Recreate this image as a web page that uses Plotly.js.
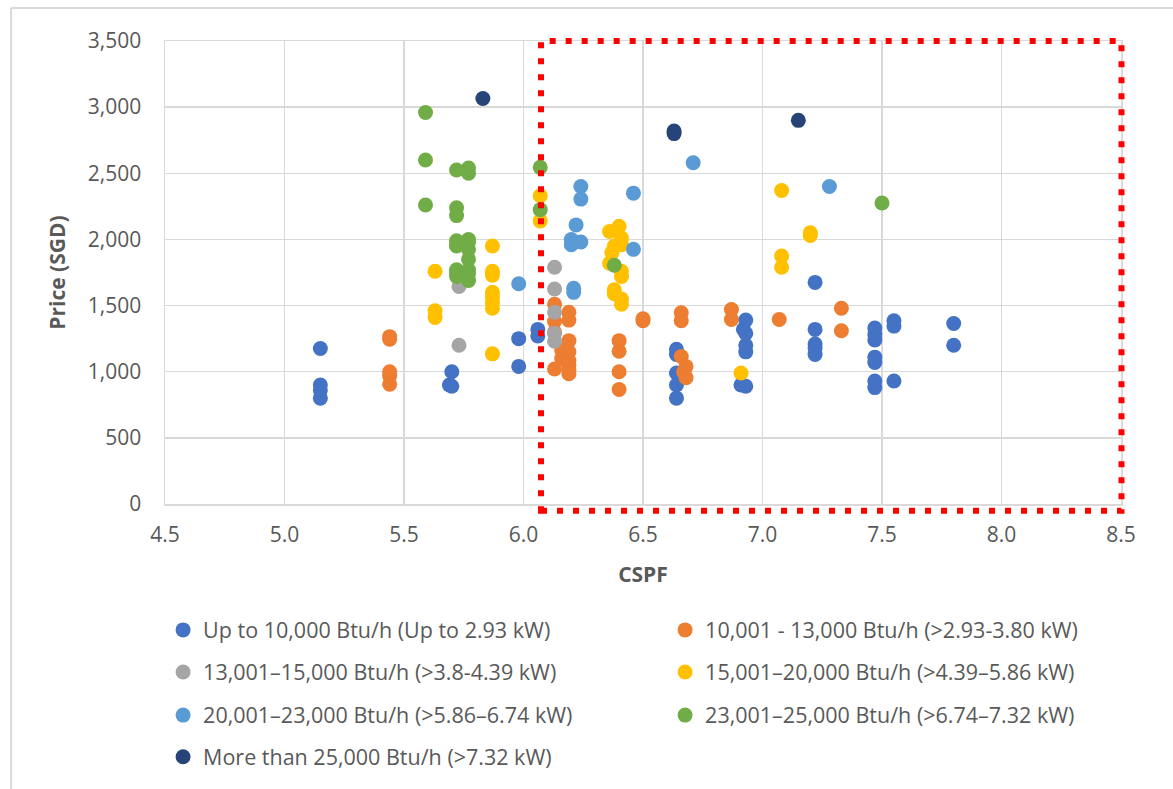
<!DOCTYPE html>
<html>
<head>
<meta charset="utf-8">
<script src="https://cdn.plot.ly/plotly-3.0.1.min.js"></script>
<style>
html,body{margin:0;padding:0;background:#fff;}
#chart{width:1173px;height:789px;}
</style>
</head>
<body>
<div id="chart"></div>
<script>
// ---------- DATA ----------
const seriesNames = [
  "Up to 10,000 Btu/h (Up to 2.93 kW)",
  "10,001 - 13,000 Btu/h (>2.93-3.80 kW)",
  "13,001\u201315,000 Btu/h (>3.8-4.39 kW)",
  "15,001\u201320,000 Btu/h (>4.39\u20135.86 kW)",
  "20,001\u201323,000 Btu/h (>5.86\u20136.74 kW)",
  "23,001\u201325,000 Btu/h (>6.74\u20137.32 kW)",
  "More than 25,000 Btu/h (>7.32 kW)"
];
const seriesColors = ["#4472C4","#ED7D31","#A5A5A5","#FFC000","#5B9BD5","#70AD47","#264478"];

const blueX = [5.15,5.15,5.15,5.15, 5.70,5.69,5.70, 5.98,5.98, 6.06,6.06,
  6.64,6.64,6.64,6.64,6.64, 6.93,6.92,6.93,6.93,6.93,6.91,6.93,
  7.22,7.22,7.22,7.22,7.22, 7.47,7.47,7.47,7.47,7.47,7.47,7.47, 7.55,7.55,7.55, 7.80,7.80];
const blueY = [1175,900,860,800, 1000,900,890, 1250,1040, 1320,1270,
  1170,1130,990,900,800, 1390,1320,1290,1200,1150,900,890,
  1675,1320,1210,1180,1130, 1330,1280,1240,1110,1070,930,880, 1385,1345,930, 1365,1200];

const orangeX = [5.44,5.44,5.44,5.44,5.44,
  6.13,6.13,6.13,6.13, 6.16,6.16, 6.19,6.19,6.19,6.19,6.19,6.19,6.19,6.19,
  6.40,6.40,6.40,6.40, 6.50,6.50, 6.66,6.66,6.66,6.68,6.67,6.68, 6.87,6.87, 7.07, 7.33,7.33];
const orangeY = [1265,1245,1000,970,905,
  1510,1380,1300,1020, 1160,1100, 1450,1390,1235,1150,1085,1050,1015,985,
  1235,1155,1000,865, 1400,1385, 1445,1385,1115,1040,1000,955, 1470,1395, 1395, 1480,1310];

const grayX = [5.73,5.73, 6.13,6.13,6.13,6.13,6.13];
const grayY = [1645,1200, 1790,1625,1450,1290,1230];

const yellowX = [5.63,5.63,5.63, 5.87,5.87,5.87,5.87,5.87,5.87,5.87,5.87, 6.07,6.07,
  6.40,6.36,6.41,6.38,6.41,6.37,6.36,6.41,6.41,6.38,6.38,6.41,6.41,
  6.91, 7.08,7.08,7.08, 7.20,7.20];
const yellowY = [1760,1460,1410, 1950,1760,1730,1600,1560,1520,1480,1135, 2330,2140,
  2100,2060,2010,1950,1960,1900,1820,1760,1720,1620,1590,1550,1510,
  990, 2370,1875,1790, 2050,2030];

const lightBlueX = [5.98, 6.21,6.21, 6.24,6.24, 6.22, 6.20,6.20,6.24, 6.46,6.46, 6.71, 7.28];
const lightBlueY = [1665, 1630,1600, 2400,2305, 2110, 2000,1960,1980, 2350,1925, 2580, 2400];

const greenX = [5.59,5.59,5.59,
  5.72,5.72,5.72,5.72,5.72,5.72,5.72,5.72,5.72,
  5.77,5.77,5.77,5.77,5.77,5.77,5.77,5.77,5.77,
  6.07,6.07, 6.38, 7.50];
const greenY = [2960,2600,2260,
  2525,2240,2180,1990,1960,1950,1770,1750,1720,
  2540,2500,2000,1980,1925,1850,1770,1740,1690,
  2545,2225, 1805, 2275];

const navyX = [5.83, 6.63,6.63, 7.15];
const navyY = [3065, 2820,2800, 2900];

const xTickVals = [4.5,5.0,5.5,6.0,6.5,7.0,7.5,8.0,8.5];
const yTickVals = [0,500,1000,1500,2000,2500,3000,3500];

// ---------- CHART ----------
const xs = [blueX, orangeX, grayX, yellowX, lightBlueX, greenX, navyX];
const ys = [blueY, orangeY, grayY, yellowY, lightBlueY, greenY, navyY];
const legendIds = ["legend","legend","legend2","legend2","legend3","legend3","legend4"];

const traces = seriesNames.map((name, i) => ({
  type: "scatter",
  mode: "markers",
  name: name,
  x: xs[i],
  y: ys[i],
  legend: legendIds[i],
  marker: {color: seriesColors[i], size: 15, line: {width: 0}},
  hoverinfo: "x+y+name"
}));

const FONT = "'Open Sans', Lato, sans-serif";
const TXT = "#595959";
const GRID = "#d9d9d9";

function legendAt(y) {
  return {
    orientation: "h",
    x: -0.002, xanchor: "left",
    y: y, yanchor: "middle",
    entrywidth: 457,
    entrywidthmode: "pixels",
    font: {family: FONT, size: 21.5, color: TXT},
    bgcolor: "rgba(0,0,0,0)",
    itemclick: false
  };
}

const layout = {
  width: 1173,
  height: 789,
  margin: {l: 165, r: 52, t: 41, b: 285, autoexpand: false},
  paper_bgcolor: "#ffffff",
  plot_bgcolor: "#ffffff",
  font: {family: FONT, color: TXT, size: 21},
  showlegend: true,
  xaxis: {
    range: [4.5, 8.5],
    tickvals: xTickVals,
    tickformat: ".1f",
    showgrid: true, gridcolor: GRID, gridwidth: 1.5,
    zeroline: false,
    showline: true, linecolor: GRID, linewidth: 1.5, mirror: true,
    ticks: "",
    ticklabelstandoff: 11,
    tickfont: {family: FONT, size: 21, color: TXT},
    title: {text: "CSPF", font: {family: FONT, size: 21, color: TXT, weight: "bold"}, standoff: 20},
    fixedrange: true
  },
  yaxis: {
    range: [0, 3500],
    tickvals: yTickVals,
    tickformat: ",",
    showgrid: true, gridcolor: GRID, gridwidth: 1.5,
    zeroline: false,
    showline: true, linecolor: GRID, linewidth: 1.5, mirror: true,
    ticks: "",
    ticklabelstandoff: 18,
    tickfont: {family: FONT, size: 21, color: TXT},
    title: {text: "Price (SGD)", font: {family: FONT, size: 21, color: TXT, weight: "bold"}, standoff: 16},
    fixedrange: true
  },
  legend: legendAt(-0.272),
  legend2: legendAt(-0.363),
  legend3: legendAt(-0.456),
  legend4: legendAt(-0.546),
  shapes: [
    // outer chart border (top and left edges visible)
    {type: "line", xref: "paper", yref: "paper", x0: -0.161, x1: 1.2, y0: 1.0713, y1: 1.0713,
     line: {color: GRID, width: 2}},
    {type: "line", xref: "paper", yref: "paper", x0: -0.161, x1: -0.161, y0: 1.0713, y1: -1,
     line: {color: GRID, width: 2}},
    // red dotted highlight box
    {type: "rect", xref: "paper", yref: "paper", x0: 0.3933, x1: 1.0005, y0: -0.0145, y1: 1.0,
     line: {color: "#ff0000", width: 6, dash: "6px,10px"}, fillcolor: "rgba(0,0,0,0)", layer: "above"}
  ]
};

Plotly.newPlot("chart", traces, layout, {displayModeBar: false, staticPlot: true});
</script>
</body>
</html>
